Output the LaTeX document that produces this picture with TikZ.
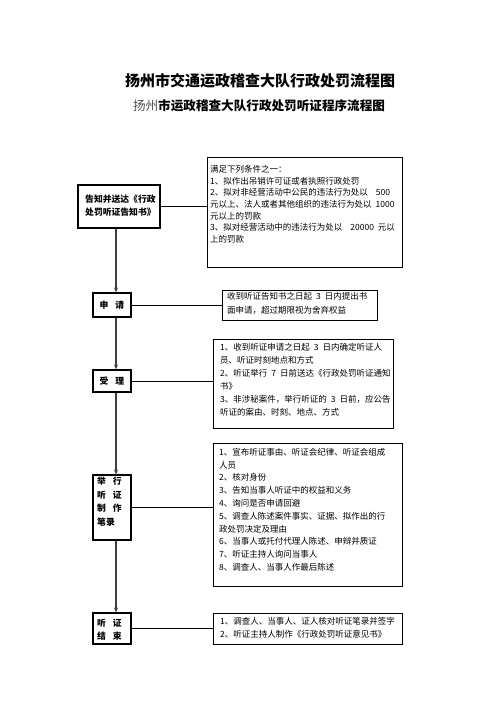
\documentclass[tikz,border=0pt]{standalone}
\usepackage{fontspec}
\setmainfont{Noto Sans CJK SC}
\usetikzlibrary{arrows.meta}
\newcommand{\gapsp}{\hspace{4pt}}
\begin{document}
\begin{tikzpicture}[x=1pt,y=-1pt,
  box/.style={draw,line width=1.1pt,inner sep=0pt,minimum width=#1},
  txt/.style={anchor=north west,inner sep=0pt,align=left},
  lbl/.style={inner sep=0pt,align=left,font=\fontsize{8.8}{12.5}\selectfont\bfseries},
  hline/.style={line width=0.9pt},
  vline/.style={line width=1.1pt,draw=black!75,-{Stealth[length=5pt,width=4pt]}}]
\useasboundingbox[fill=white] (0,0) rectangle (496,702);
% titles
\node[inner sep=0pt,font=\fontsize{15}{18}\selectfont\bfseries] (t1) at (260,81) {扬州市交通运政稽查大队行政处罚流程图};
\node[inner sep=0pt,font=\fontsize{12.6}{15}\selectfont] (t2) at (259,106) {{\color{black!70}扬州}\bfseries 市运政稽查大队行政处罚听证程序流程图};
% left boxes
\node[box=82pt,minimum height=43pt] (b1) at (119,206.5) {};
\node[lbl,anchor=north west] (b1t) at (85,195) {告知并送达《行政\\处罚听证告知书》};
\node[box=38pt,minimum height=24pt,lbl] (b2) at (112,305) {申\hspace{7pt}请};
\node[box=38pt,minimum height=22pt,lbl] (b3) at (112,381) {受\hspace{7pt}理};
\node[box=38pt,minimum height=65pt] (b4) at (112,507.5) {};
\node[lbl,anchor=north west] (b4t) at (97,477) {举\hspace{7pt}行\\[1pt]听\hspace{7pt}证\\[1pt]制\hspace{7pt}作\\[1pt]笔录};
\node[box=38pt,minimum height=31pt] (b5) at (112,628.5) {};
\node[lbl,anchor=north west] (b5t) at (97,619) {听\hspace{7pt}证\\结\hspace{7pt}束};
% right boxes
\node[box=195pt,minimum height=110pt,anchor=north west] (r1) at (207,157) {};
\node[txt,font=\fontsize{8.5}{11.7}\selectfont] (r1t) at (210,165) {满足下列条件之一：\\1、拟作出吊销许可证或者执照行政处罚\\2、拟对非经营活动中公民的违法行为处以\gapsp\gapsp 500\\元以上、法人或者其他组织的违法行为处以\gapsp 1000\\元以上的罚款\\3、拟对经营活动中的违法行为处以\gapsp\gapsp 20000\gapsp 元以\\上的罚款};
\node[box=155pt,minimum height=30pt,anchor=north west] (r2) at (222,290) {};
\node[txt,font=\fontsize{8.5}{13.5}\selectfont] (r2t) at (227,292.5) {收到听证告知书之日起\gapsp 3\gapsp 日内提出书\\面申请，超过期限视为舍弃权益};
\node[box=180pt,minimum height=89pt,anchor=north west] (r3) at (213,339) {};
\node[txt,font=\fontsize{8.5}{13.1}\selectfont] (r3t) at (220,343) {1、收到听证申请之日起\gapsp 3\gapsp 日内确定听证人\\员、听证时刻地点和方式\\2、听证举行\gapsp 7\gapsp 日前送达《行政处罚听证通知\\书》\\3、非涉秘案件，举行听证的\gapsp 3\gapsp 日前，应公告\\听证的案由、时刻、地点、方式};
\node[box=189pt,minimum height=143pt,anchor=north west] (r4) at (213,443) {};
\node[txt,font=\fontsize{8.5}{12.8}\selectfont] (r4t) at (219,448) {1、宣布听证事由、听证会纪律、听证会组成\\人员\\2、核对身份\\3、告知当事人听证中的权益和义务\\4、询问是否申请回避\\5、调查人陈述案件事实、证据、拟作出的行\\政处罚决定及理由\\6、当事人或托付代理人陈述、申辩并质证\\7、听证主持人询问当事人\\8、调查人、当事人作最后陈述};
\node[box=189pt,minimum height=31pt,anchor=north west] (r5) at (213,613) {};
\node[txt,font=\fontsize{8.5}{13}\selectfont] (r5t) at (220,617) {1、调查人、当事人、证人核对听证笔录并签字\\2、听证主持人制作《行政处罚听证意见书》};
% connectors
\coordinate (v) at (116,0);
\draw[vline] (b1.south -| v) -- (b2.north -| v);
\draw[vline] (b2.south -| v) -- (b3.north -| v);
\draw[vline] (b3.south -| v) -- (b4.north -| v);
\draw[vline] (b4.south -| v) -- (b5.north -| v);
\draw[hline] (b1.east) -- (b1.east -| r1.west);
\draw[hline] (b2.east) -- (b2.east -| r2.west);
\draw[hline] (b3.east) -- (b3.east -| r3.west);
\draw[hline] (b4.east) -- (b4.east -| r4.west);
\draw[hline] (b5.east) -- (b5.east -| r5.west);
\end{tikzpicture}
\end{document}
